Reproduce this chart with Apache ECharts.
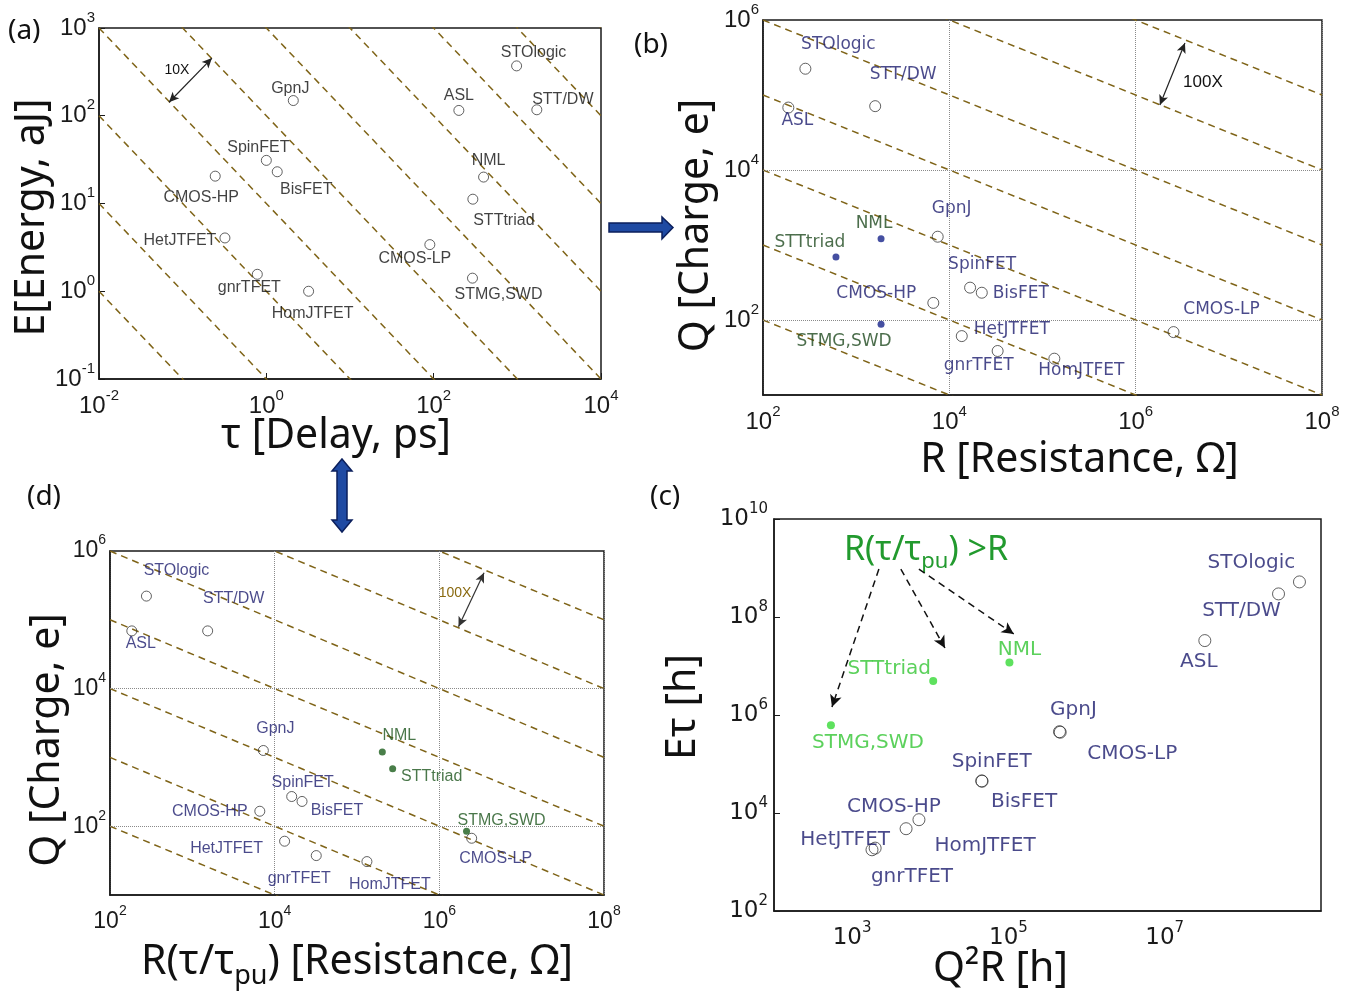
<!DOCTYPE html>
<html><head><meta charset="utf-8">
<script src="https://cdn.jsdelivr.net/npm/echarts@6/dist/echarts.min.js"></script>
<style>html,body{margin:0;padding:0;background:#fff}#c{width:1364px;height:998px}</style>
</head><body><div id="c"></div>
<script>
// ---------------- data ----------------
const devices = ['STOlogic','STT/DW','ASL','GpnJ','SpinFET','BisFET','CMOS-HP','NML','STTtriad','HetJTFET','CMOS-LP','gnrTFET','HomJTFET','STMG,SWD'];
const filledDevices = ['NML','STTtriad','STMG,SWD'];
// (a) energy vs delay
const delayPs  = [980, 1710, 200, 2.1, 1.0, 1.35, 0.245, 395, 294, 0.32, 90, 0.78, 3.2, 291];
const energyAJ = [370, 117, 115, 149, 31, 23, 20.5, 20, 11.2, 4.05, 3.4, 1.56, 1.0, 1.41];
// (b) charge vs resistance
const resistB = [285, 1600, 187, 7500, 16700, 22300, 6730, 1850, 607, 13600, 2550000, 33000, 134000, 1850];
const chargeB = [224000, 71000, 68000, 1290, 270, 231, 169, 1210, 692, 61, 69, 38.6, 30.5, 87.5];
// (d) charge vs R(tau/tau_pu)
const resistD = [277, 1535, 184, 7290, 16100, 21500, 6600, 203000, 271000, 13200, 2470000, 32000, 132000, 2140000];
const chargeD = [221000, 69000, 69000, 1260, 270, 229, 165, 1200, 684, 60.5, 66.8, 37.4, 30.6, 84.6];
// (c) E*tau vs Q^2 R
const q2rC  = [5.3e8, 2.86e8, 3.26e7, 4.5e5, 45500, 46000, 7160, 1.03e5, 10900, 1970, 4.6e5, 1795, 4900, 535];
const etauC = [5.2e8, 2.96e8, 3.3e7, 4.56e5, 45200, 44500, 7300, 1.18e7, 4.97e6, 1920, 4.45e5, 1775, 4780, 6.2e5];
// guide lines
const etauGuideExp = [-2, -1, 0, 1, 2, 3, 4, 5, 6, 7];   // E*tau = 10^k
const q2rGuideExp  = [6, 8, 10, 12, 14, 16, 18];         // Q^2 R = 10^k
// tick exponents shown on panel (c) x axis
const cTickExp = [3, 5, 7];
// annotations (data coordinates)
const arrowA10X  = [[0.0686, 142.6], [0.224, 454]];
const textA10X   = [0.0855, 331];
const arrowB100X = [[1.82e6, 7.36e4], [3.38e6, 4.93e5]];
const textB100X  = [5.27e6, 1.49e5];
const arrowD100X = [[1.71e6, 7.94e4], [3.49e6, 4.84e5]];
const textD100X  = [1.55e6, 2.45e5];
const calloutArrowsC = [
  [[2200, 9.5e8], [552, 1.46e6]],
  [[4200, 9.5e8], [15400, 2.33e7]],
  [[7150, 9.5e8], [117000, 4.5e7]]
];
const gridLinesQ = [100, 10000];

// ---------------- layout (label offsets in px) ----------------
const offA = [[17,-13],[26,-10],[0,-15],[-3,-12],[-8,-13],[29,18],[-14,21],[5,-16],[31,21],[-45,3],[-15,14],[-8,13],[4,22],[26,16]];
const offB = [[33,-24],[28,-32],[9,13],[14,-28],[12,-23],[39,1],[-57,-9],[-7,-15],[-26,-14],[50,-7],[48,-23],[-19,15],[27,12],[-37,17]];
const offD = [[30,-26],[26,-32],[9,13],[12,-22],[11,-14],[35,9],[-50,0],[17,-16],[39,8],[-58,7],[24,20],[-17,23],[23,23],[35,-11]];
const offC = [[-48,-19],[-37,17],[-6,21],[14,-22],[10,-19],[42,21],[-25,-13],[10,-13],[-44,-12],[-30,-8],[72,22],[40,27],[79,17],[37,18]];

const GUIDE = '#7f6418';
const INK = '#1a1a1a';
const NAVY = '#1d1d6e';

function expOf(v){ return Math.round(Math.log10(v)); }
function pow10Label(filter){
  return function(v){
    const e = expOf(v);
    if (filter && !filter(e)) return '';
    return '{b|10}{s|' + e + '}';
  };
}
function tickRich(family, big, small){
  return {
    b:{fontFamily:family, fontSize:big, lineHeight:big+12, color:INK},
    s:{fontFamily:family, fontSize:small, lineHeight:small, verticalAlign:'top', color:INK}
  };
}
function axis(o){
  return {
    type:'log', logBase:10, gridIndex:o.grid, min:o.min, max:o.max, interval:o.interval,
    axisLine:{show:true, onZero:false, lineStyle:{color:INK, width:1.5}},
    axisTick:{show:!!o.tick, inside:true, length:6, lineStyle:{color:INK, width:1}},
    axisLabel:{formatter:pow10Label(o.filter), rich:tickRich(o.font, o.big, o.small), margin:o.margin, hideOverlap:false},
    splitLine:{show:!!o.split, lineStyle:{type:'dotted', color:'#8a8a8a', width:1}},
    minorTick:{show:false}, minorSplitLine:{show:false},
    name:o.name, nameLocation:'middle', nameGap:o.gap, nameMoveOverlap:false,
    nameTextStyle:Object.assign({fontFamily:'Noto Sans', fontSize:41, color:'#111'}, o.nameStyle||{})
  };
}
const even = e => e % 2 === 0;
const cTicks = e => cTickExp.indexOf(e) >= 0;

function guideSeries(grid, pts){
  return {type:'line', xAxisIndex:grid, yAxisIndex:grid, data:pts, symbol:'none', showSymbol:false,
    clip:true, silent:true, z:1, lineStyle:{color:GUIDE, width:1.5, type:[7,5]}};
}
const guidesA = etauGuideExp.map(k => guideSeries(0, [[1e-2, Math.pow(10,k)/1e-2],[1e4, Math.pow(10,k)/1e4]]));
const guidesB = q2rGuideExp.map(k => guideSeries(1, [[1e2, Math.sqrt(Math.pow(10,k)/1e2)],[1e8, Math.sqrt(Math.pow(10,k)/1e8)]]));
const guidesD = q2rGuideExp.map(k => guideSeries(3, [[1e2, Math.sqrt(Math.pow(10,k)/1e2)],[1e8, Math.sqrt(Math.pow(10,k)/1e8)]]));

function pointData(xs, ys, offs, st){
  return devices.map((name, i) => {
    const filled = st.useFill && filledDevices.indexOf(name) >= 0;
    return {
      name, value:[xs[i], ys[i]],
      symbolSize: filled ? st.fillSize : st.size,
      itemStyle: filled ? {color:st.fillColor, borderWidth:0}
                        : {color:'rgba(255,255,255,0)', borderColor:'#3a3a3a', borderWidth:1},
      label:{offset:offs[i], color: filled ? st.fillLabel : st.labelColor}
    };
  });
}
function scatter(grid, data, st, extra){
  return Object.assign({
    type:'scatter', xAxisIndex:grid, yAxisIndex:grid, data, z:5,
    label:{show:true, formatter:'{b}', position:'inside', align:'center', verticalAlign:'middle',
      fontFamily:st.font, fontSize:st.fontSize, color:st.labelColor}
  }, extra||{});
}
const dblArrow = (pair, color) => ({silent:true, symbol:['arrow','arrow'], symbolSize:[7,10], label:{show:false},
  lineStyle:{type:'solid', color:color, width:1.2}, data:[[{coord:pair[0]},{coord:pair[1]}]]});
const textMark = (coord, txt, st) => ({silent:true, symbol:'circle', symbolSize:0,
  label:Object.assign({show:true, formatter:txt, position:'inside'}, st), data:[{coord}]});

const stA = {useFill:false, size:10, labelColor:'#111', font:'Liberation Sans', fontSize:16};
const stB = {useFill:true, size:11, fillSize:7, fillColor:'#16238a', labelColor:NAVY, fillLabel:'#1f4a1f', font:'DejaVu Sans', fontSize:17};
const stD = {useFill:true, size:10, fillSize:7, fillColor:'#1b5e1b', labelColor:NAVY, fillLabel:'#1d551d', font:'Liberation Sans', fontSize:16};
const stC = {useFill:true, size:12, fillSize:8, fillColor:'#36d936', labelColor:NAVY, fillLabel:'#33c633', font:'DejaVu Sans', fontSize:20};

const nameSub = {
  n:{fontFamily:'Noto Sans', fontSize:41, lineHeight:56, color:'#111'},
  sub:{fontFamily:'Noto Sans', fontSize:27, lineHeight:30, verticalAlign:'bottom', color:'#111'}
};

const option = {
  animation:false,
  backgroundColor:'#fff',
  textStyle:{fontFamily:'Liberation Sans'},
  grid:[
    {left:99, top:28, width:502, height:351, show:true, borderColor:INK, borderWidth:1.5, containLabel:false},
    {left:763, top:20, width:559, height:375, show:true, borderColor:INK, borderWidth:1.5, containLabel:false},
    {left:774, top:519, width:547, height:392, show:true, borderColor:INK, borderWidth:1.5, containLabel:false},
    {left:110, top:551, width:494, height:344, show:true, borderColor:INK, borderWidth:1.5, containLabel:false}
  ],
  xAxis:[
    axis({grid:0, min:1e-2, max:1e4, interval:2, tick:true, font:'Liberation Sans', big:24, small:15, margin:9,
      name:'τ [Delay, ps]', gap:37, nameStyle:{padding:[0,28,0,0]}}),
    axis({grid:1, min:1e2, max:1e8, interval:2, split:true, font:'Liberation Sans', big:24, small:15, margin:9,
      name:'R [Resistance, Ω]', gap:45, nameStyle:{padding:[0,0,0,74]}}),
    axis({grid:2, min:1e2, max:1e9, interval:1, filter:cTicks, font:'DejaVu Sans', big:23, small:15, margin:10,
      name:'Q²R [h]', gap:38, nameStyle:{padding:[0,94,0,0]}}),
    axis({grid:3, min:1e2, max:1e8, interval:2, split:true, font:'Liberation Sans', big:23, small:14, margin:9,
      name:'{n|R(τ/τ}{sub|pu}{n|) [Resistance, Ω]}', gap:39, nameStyle:{rich:nameSub}})
  ],
  yAxis:[
    axis({grid:0, min:1e-1, max:1e3, interval:1, tick:true, font:'Liberation Sans', big:24, small:15, margin:4,
      name:'E[Energy, aJ]', gap:46, nameStyle:{padding:[0,28,0,0]}}),
    axis({grid:1, min:1e1, max:1e6, interval:1, filter:even, font:'Liberation Sans', big:24, small:15, margin:4,
      name:'Q [Charge, e]', gap:46, nameStyle:{padding:[0,36,0,0]}}),
    axis({grid:2, min:1e2, max:1e10, interval:2, tick:true, font:'DejaVu Sans', big:23, small:15, margin:6,
      name:'Eτ [h]', gap:70, nameStyle:{padding:[0,0,0,16]}}),
    axis({grid:3, min:1e1, max:1e6, interval:1, filter:even, font:'Liberation Sans', big:23, small:14, margin:4,
      name:'Q [Charge, e]', gap:42, nameStyle:{padding:[0,34,0,0]}})
  ],
  series:[
    ...guidesA, ...guidesB, ...guidesD,
    scatter(0, pointData(delayPs, energyAJ, offA, stA), stA, {
      markLine:dblArrow(arrowA10X, '#222'),
      markPoint:textMark(textA10X, '10X', {fontSize:14, color:'#111', fontFamily:'Liberation Sans'})
    }),
    scatter(1, pointData(resistB, chargeB, offB, stB), stB, {
      markLine:{silent:true, symbol:'none', label:{show:false}, lineStyle:{type:'dotted', color:'#8a8a8a', width:1},
        data:gridLinesQ.map(v => ({yAxis:v}))},
      markPoint:textMark(textB100X, '100X', {fontSize:17, color:'#111', fontFamily:'Liberation Sans'})
    }),
    {type:'line', xAxisIndex:1, yAxisIndex:1, data:[], markLine:dblArrow(arrowB100X, '#222')},
    scatter(3, pointData(resistD, chargeD, offD, stD), stD, {
      markLine:{silent:true, symbol:'none', label:{show:false}, lineStyle:{type:'dotted', color:'#8a8a8a', width:1},
        data:gridLinesQ.map(v => ({yAxis:v}))},
      markPoint:textMark(textD100X, '100X', {fontSize:14, color:'#8a6a10', fontFamily:'Liberation Sans'})
    }),
    {type:'line', xAxisIndex:3, yAxisIndex:3, data:[], markLine:dblArrow(arrowD100X, '#333')},
    scatter(2, pointData(q2rC, etauC, offC, stC), stC, {
      markLine:{silent:true, symbol:['none','arrow'], symbolSize:[9,12], label:{show:false},
        lineStyle:{type:[7,5], color:'#111', width:1.5},
        data:calloutArrowsC.map(a => [{coord:a[0]},{coord:a[1]}])}
    })
  ],
  graphic:[
    {type:'text', left:8, top:17, style:{text:'(a)', fontFamily:'Noto Sans', fontSize:28, fill:'#111'}},
    {type:'text', left:634, top:31, style:{text:'(b)', fontFamily:'Noto Sans', fontSize:28, fill:'#111'}},
    {type:'text', left:27, top:483, style:{text:'(d)', fontFamily:'Noto Sans', fontSize:28, fill:'#111'}},
    {type:'text', left:650, top:483, style:{text:'(c)', fontFamily:'Noto Sans', fontSize:28, fill:'#111'}},
    {type:'polygon', shape:{points:[[609,223],[662,223],[662,217],[673,227.5],[662,239],[662,232],[609,232]]},
      style:{fill:'#1f4aa3', stroke:'#0b1f5c', lineWidth:1.5}},
    {type:'polygon', shape:{points:[[342,459],[352,471],[347,471],[347,520],[352,520],[342,532],[332,520],[337,520],[337,471],[332,471]]},
      style:{fill:'#1f4aa3', stroke:'#0b1f5c', lineWidth:1.5}},
    {type:'text', x:926, y:550, style:{
      text:'{n|R(τ/τ}{sub|pu}{n|) >R}', align:'center', verticalAlign:'middle',
      rich:{
        n:{fontFamily:'Noto Sans', fontSize:34, lineHeight:46, fill:'#229a2e', color:'#229a2e'},
        sub:{fontFamily:'Noto Sans', fontSize:22, lineHeight:26, verticalAlign:'bottom', fill:'#229a2e', color:'#229a2e'}
      }}}
  ]
};
const chart = echarts.init(document.getElementById('c'));
chart.setOption(option);
</script>
</body></html>
